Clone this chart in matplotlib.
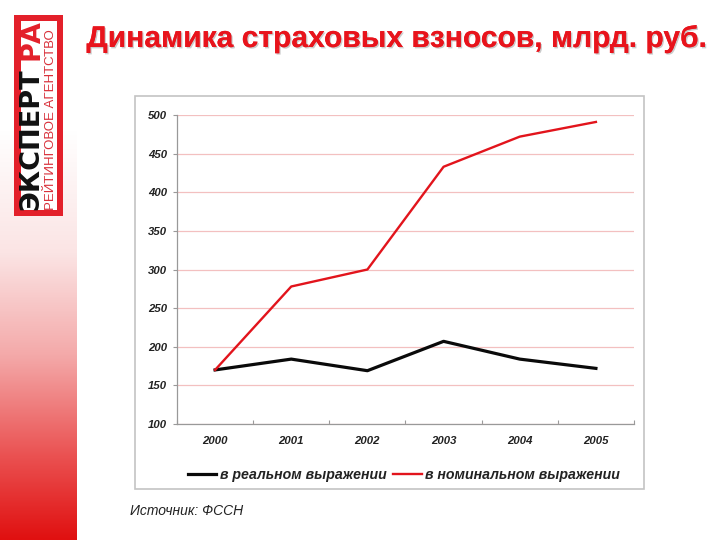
import numpy as np
import matplotlib
matplotlib.use('Agg')
import matplotlib.pyplot as plt
from matplotlib.patches import Rectangle
from matplotlib.colors import LinearSegmentedColormap
import matplotlib.patheffects as pe

years = ['2000', '2001', '2002', '2003', '2004', '2005']
real = [170, 184, 169, 207, 184, 172]
nominal = [170, 278, 300, 433, 472, 491]
y_ticks = [100, 150, 200, 250, 300, 350, 400, 450, 500]
title = 'Динамика страховых взносов, млрд. руб.'
series_names = ['в реальном выражении', 'в номинальном выражении']
source = 'Источник: ФССН'

W, H = 720, 540
plt.rcParams['font.family'] = ['Liberation Sans', 'DejaVu Sans']
fig = plt.figure(figsize=(7.2, 5.4), dpi=100, facecolor='white')

def px_axes(x0, y0, x1, y1, **kw):
    return fig.add_axes([x0 / W, 1 - y1 / H, (x1 - x0) / W, (y1 - y0) / H], **kw)

bg = px_axes(0, 0, W, H, zorder=0)
bg.set_xlim(0, W); bg.set_ylim(H, 0); bg.axis('off')
cmap = LinearSegmentedColormap.from_list('strip', [(0, '#ffffff'), (0.3, '#fbe4e4'), (0.55, '#f4a9a9'), (0.8, '#ea5050'), (1, '#e01010')])
bg.imshow(np.linspace(0, 1, 256)[:, None], extent=(0, 77, 540, 130), cmap=cmap, aspect='auto', vmin=0, vmax=1)
bg.set_xlim(0, W); bg.set_ylim(H, 0)

# logo
bg.add_patch(Rectangle((14, 15), 49, 201, fc='#e3202a', ec='none'))
bg.add_patch(Rectangle((21, 21), 36, 189, fc='white', ec='none'))
bg.text(31.5, 210, 'ЭКСПЕРТ', rotation=90, color='#111111', fontsize=19.5, fontweight='bold', ha='center', va='bottom', family=['DejaVu Sans'])
bg.text(31.5, 60, 'РА', rotation=90, color='#e3202a', fontsize=19.5, fontweight='bold', ha='center', va='bottom', family=['DejaVu Sans'])
bg.text(51, 209.5, 'РЕЙТИНГОВОЕ АГЕНТСТВО', rotation=90, color='#d8303a', fontsize=9.5, ha='center', va='bottom')

# title
bg.text(397, 39, title, color='#e8141c', fontsize=21.6, fontweight='bold', ha='center', va='center',
        path_effects=[pe.withSimplePatchShadow(offset=(1, -1), shadow_rgbFace='#999999', alpha=0.5), pe.Normal()])

# chart frame
bg.add_patch(Rectangle((134.5, 95.5), 509, 393, fc='white', ec='#c4c4c4', lw=1.2))

ax = px_axes(177, 115, 634, 424, zorder=2)
ax.patch.set_alpha(0)
x = np.arange(len(years))
ax.set_xlim(-0.5, 5.5)
ax.set_ylim(100, 500)
ax.set_yticks(y_ticks)
ax.set_xticks(np.arange(-0.5, 6, 1), minor=False)
ax.set_xticklabels([])
ax.set_xticks(x, minor=True)
ax.set_xticklabels(years, minor=True)
ax.tick_params(axis='x', which='minor', length=0, pad=9)
ax.tick_params(axis='x', which='major', length=3, direction='in', color='#999999')
ax.tick_params(axis='y', length=3, color='#999999', pad=4, direction='out')
for lab in ax.get_xticklabels(minor=True) + ax.get_yticklabels():
    lab.set_fontsize(8.2); lab.set_fontweight('bold'); lab.set_fontstyle('italic'); lab.set_color('#222222')
ax.grid(axis='y', color='#f3c0c0', lw=0.9)
ax.set_axisbelow(True)
for s in ('top', 'right'):
    ax.spines[s].set_visible(False)
for s in ('left', 'bottom'):
    ax.spines[s].set_color('#999999'); ax.spines[s].set_linewidth(0.9)

l1, = ax.plot(x, real, color='#0a0a0a', lw=2.3, label=series_names[0], solid_joinstyle='round')
l2, = ax.plot(x, nominal, color='#e2141c', lw=1.7, label=series_names[1], solid_joinstyle='round')

leg = fig.legend(handles=[l1, l2], loc='center', bbox_to_anchor=(404 / W, 1 - 474.5 / H), ncol=2, frameon=False,
                 prop={'size': 10.2, 'weight': 'bold', 'style': 'italic'}, handlelength=2.0, handletextpad=0.25, columnspacing=0.5)
for t in leg.get_texts():
    t.set_color('#222222')

bg.text(130, 511, source, fontsize=10, fontstyle='italic', color='#222222', ha='left', va='center')

fig.savefig('out.png', dpi=100)
